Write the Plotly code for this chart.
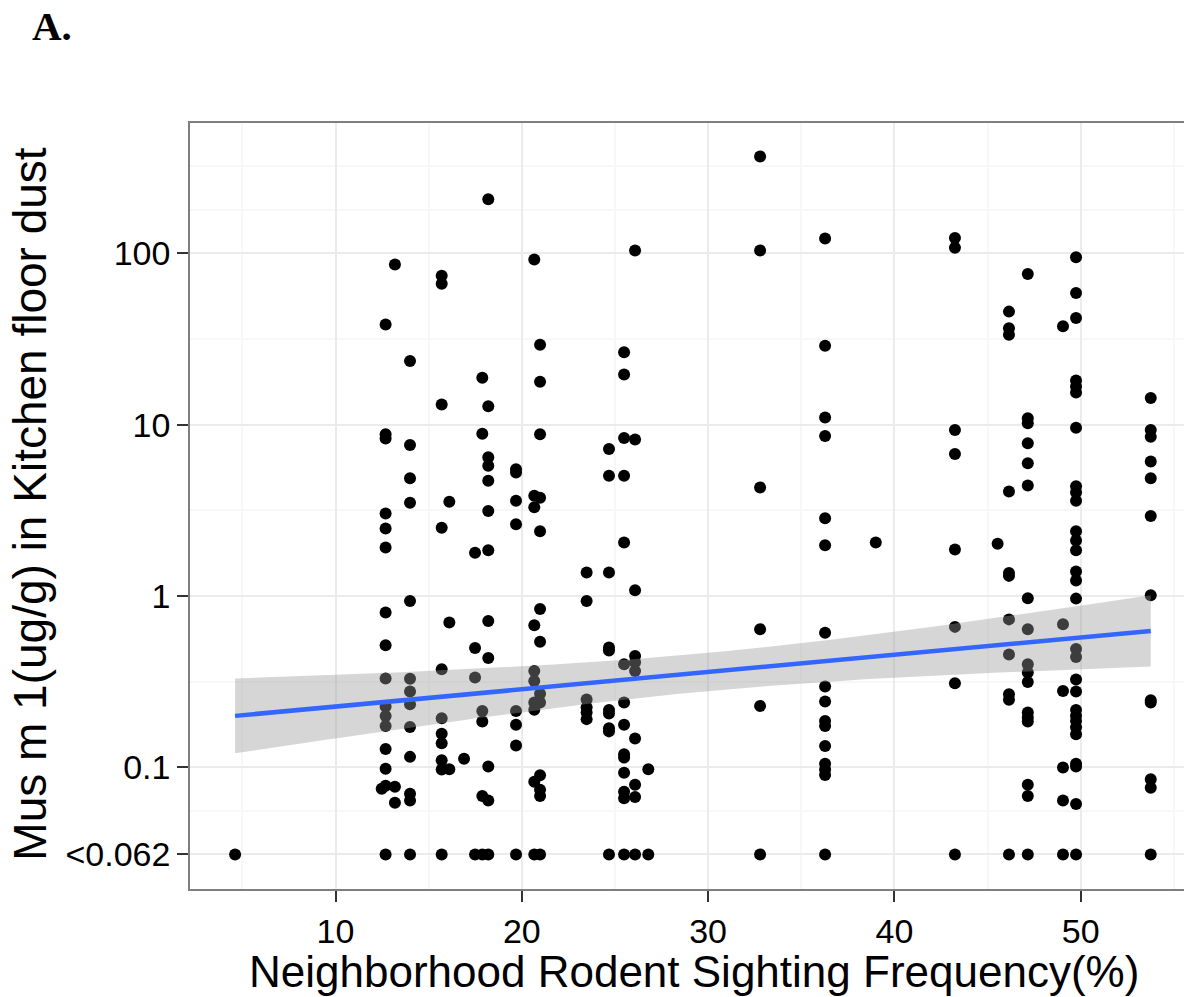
import numpy as np
import plotly.graph_objects as go

# ---- data (x = sighting frequency %, y = Mus m 1 ug/g) ----
# values below the detection limit (<0.062) are plotted at 0.031
LOD_PLOT = 0.031

freq_groups = [4.61, 12.48, 12.69, 13.19, 14.0, 15.70, 16.11, 16.90, 17.49, 17.88,
               18.20, 19.69, 20.67, 20.98, 23.48, 24.68, 25.49, 26.08, 26.79, 32.79,
               36.28, 39.0, 43.25, 45.54, 46.15, 47.16, 49.05, 49.75, 53.76]

mus_groups = [
    [0.031],
    [0.075],
    [38.4, 8.8, 8.3, 3.03, 2.48, 1.92, 0.80, 0.515, 0.330, 0.226, 0.199, 0.174, 0.128, 0.098, 0.078, 0.031],
    [86, 0.077, 0.062],
    [23.5, 7.6, 4.86, 3.5, 0.935, 0.329, 0.277, 0.233, 0.172, 0.115, 0.070, 0.064, 0.031],
    [74, 66.5, 13.1, 2.5, 0.373, 0.193, 0.157, 0.138, 0.110, 0.097, 0.031],
    [3.55, 0.70, 0.0975],
    [0.112],
    [1.79, 0.497, 0.334, 0.031],
    [18.8, 8.85, 0.213, 0.185, 0.068, 0.031],
    [207, 12.8, 6.45, 5.76, 4.71, 3.13, 1.85, 0.715, 0.435, 0.101, 0.064, 0.031],
    [5.5, 5.25, 3.6, 2.62, 0.213, 0.177, 0.134, 0.031],
    [92, 3.85, 3.3, 0.675, 0.365, 0.319, 0.239, 0.217, 0.0824, 0.031],
    [29.3, 17.8, 8.8, 3.75, 2.39, 0.84, 0.54, 0.269, 0.239, 0.0898, 0.074, 0.068, 0.031],
    [1.37, 0.935, 0.249, 0.224, 0.209, 0.191],
    [7.2, 5.04, 1.37, 0.50, 0.48, 0.216, 0.206, 0.169, 0.162, 0.031],
    [26.5, 19.6, 8.35, 5.04, 2.05, 0.40, 0.239, 0.177, 0.119, 0.114, 0.093, 0.072, 0.066, 0.031],
    [104, 8.2, 1.08, 0.446, 0.41, 0.365, 0.147, 0.079, 0.067, 0.031],
    [0.0975, 0.031],
    [368, 104, 4.3, 0.64, 0.228, 0.031],
    [122, 28.9, 11.0, 8.6, 2.84, 1.98, 0.61, 0.296, 0.242, 0.186, 0.174, 0.133, 0.105, 0.097, 0.090, 0.031],
    [2.05],
    [123, 108, 9.3, 6.75, 1.87, 0.66, 0.309, 0.031],
    [2.02],
    [45.7, 36.6, 33.5, 4.07, 1.36, 1.31, 0.73, 0.456, 0.267, 0.248, 0.031],
    [75.7, 10.9, 10.2, 7.8, 5.95, 4.42, 0.97, 0.64, 0.40, 0.357, 0.315, 0.209, 0.195, 0.185, 0.079, 0.068, 0.031],
    [37.5, 0.684, 0.279, 0.0996, 0.064, 0.031],
    [95, 58.7, 41.9, 18.1, 16.7, 15.4, 9.6, 4.37, 4.03, 3.6, 2.39, 2.11, 1.85, 1.39, 1.23, 0.965,
     0.49, 0.44, 0.325, 0.277, 0.216, 0.20, 0.186, 0.171, 0.156, 0.105, 0.101, 0.061, 0.031],
    [14.3, 9.3, 8.5, 6.1, 4.86, 2.93, 1.01, 0.246, 0.239, 0.085, 0.076, 0.031],
]

# linear smoother on log10 scale
fit_intercept_log10 = -0.7465
fit_slope_log10 = 0.01009
ci_center_x = 30.0
ci_min_halfwidth = 0.1114
ci_spread = 0.00741

y_tickvals = [LOD_PLOT, 0.1, 1, 10, 100]
y_ticktext = ["<0.062", "0.1", "1", "10", "100"]
y_minor_vals = [0.0557, 0.3162, 3.162, 31.62, 179.6, 322.6]
x_tickvals = [10, 20, 30, 40, 50]

x_title = "Neighborhood Rodent Sighting Frequency(%)"
y_title = "Mus m 1(ug/g) in Kitchen floor dust"
panel_label = "A."

# ---- build ----
xs, ys = [], []
for fx, vals in zip(freq_groups, mus_groups):
    xs.extend([fx] * len(vals))
    ys.extend(vals)

xmin, xmax = min(freq_groups), max(freq_groups)
xf = np.linspace(xmin, xmax, 100)
yf_log = fit_intercept_log10 + fit_slope_log10 * xf
hw = np.sqrt(ci_min_halfwidth ** 2 + (ci_spread * (xf - ci_center_x)) ** 2)
lo = 10 ** (yf_log - hw)
hi = 10 ** (yf_log + hw)

fig = go.Figure()
fig.add_trace(go.Scatter(x=xs, y=ys, mode="markers",
                         marker=dict(color="black", size=12, line=dict(width=0)),
                         showlegend=False, hoverinfo="skip"))
fig.add_trace(go.Scatter(x=np.concatenate([xf, xf[::-1]]), y=np.concatenate([hi, lo[::-1]]),
                         fill="toself", fillcolor="rgba(153,153,153,0.4)",
                         line=dict(width=0), mode="lines", showlegend=False, hoverinfo="skip"))
fig.add_trace(go.Scatter(x=xf, y=10 ** yf_log, mode="lines",
                         line=dict(color="#3366FF", width=4.5), showlegend=False, hoverinfo="skip"))

font_main = "Liberation Sans, Arial, Helvetica, sans-serif"
fig.update_layout(
    width=1184, height=997,
    margin=dict(l=190, r=0, t=123, b=108, pad=0),
    paper_bgcolor="white", plot_bgcolor="white",
    font=dict(family=font_main, color="black"),
    xaxis=dict(range=[2.19, 55.545], tickmode="array", tickvals=x_tickvals,
               showgrid=True, gridcolor="#EBEBEB", gridwidth=1.5, zeroline=False,
               showline=True, linecolor="#7F7F7F", linewidth=1.5, mirror=True,
               ticks="outside", ticklen=11, tickwidth=1.5, tickcolor="#333333",
               tickfont=dict(size=34, color="black"),
               minor=dict(tickmode="linear", tick0=5, dtick=10, showgrid=True,
                          gridcolor="#F7F7F7", gridwidth=1.5, ticks="")),
    yaxis=dict(type="log", range=[-1.7106, 2.761], tickmode="array",
               tickvals=y_tickvals, ticktext=y_ticktext,
               showgrid=True, gridcolor="#EBEBEB", gridwidth=1.5, zeroline=False,
               showline=True, linecolor="#7F7F7F", linewidth=1.5, mirror=False,
               ticks="outside", ticklen=11, tickwidth=1.5, tickcolor="#333333",
               tickfont=dict(size=34, color="black"),
               minor=dict(tickmode="array", tickvals=y_minor_vals, showgrid=True,
                          gridcolor="#F7F7F7", gridwidth=1.5, ticks="")),
    annotations=[
        dict(text=x_title, xref="paper", yref="paper", x=0.507, y=-0.1083,
             xanchor="center", yanchor="middle", showarrow=False,
             font=dict(size=44, family=font_main, color="black")),
        dict(text=y_title, xref="paper", yref="paper", x=-0.161, y=0.503,
             xanchor="center", yanchor="middle", textangle=-90, showarrow=False,
             font=dict(size=46, family=font_main, color="black")),
        dict(text="<b>" + panel_label + "</b>", xref="paper", yref="paper", x=-0.161, y=1.1266,
             xanchor="left", yanchor="middle", showarrow=False,
             font=dict(size=41, family="Liberation Serif, Times New Roman, serif", color="black")),
    ],
)

fig.write_html("out.html")
